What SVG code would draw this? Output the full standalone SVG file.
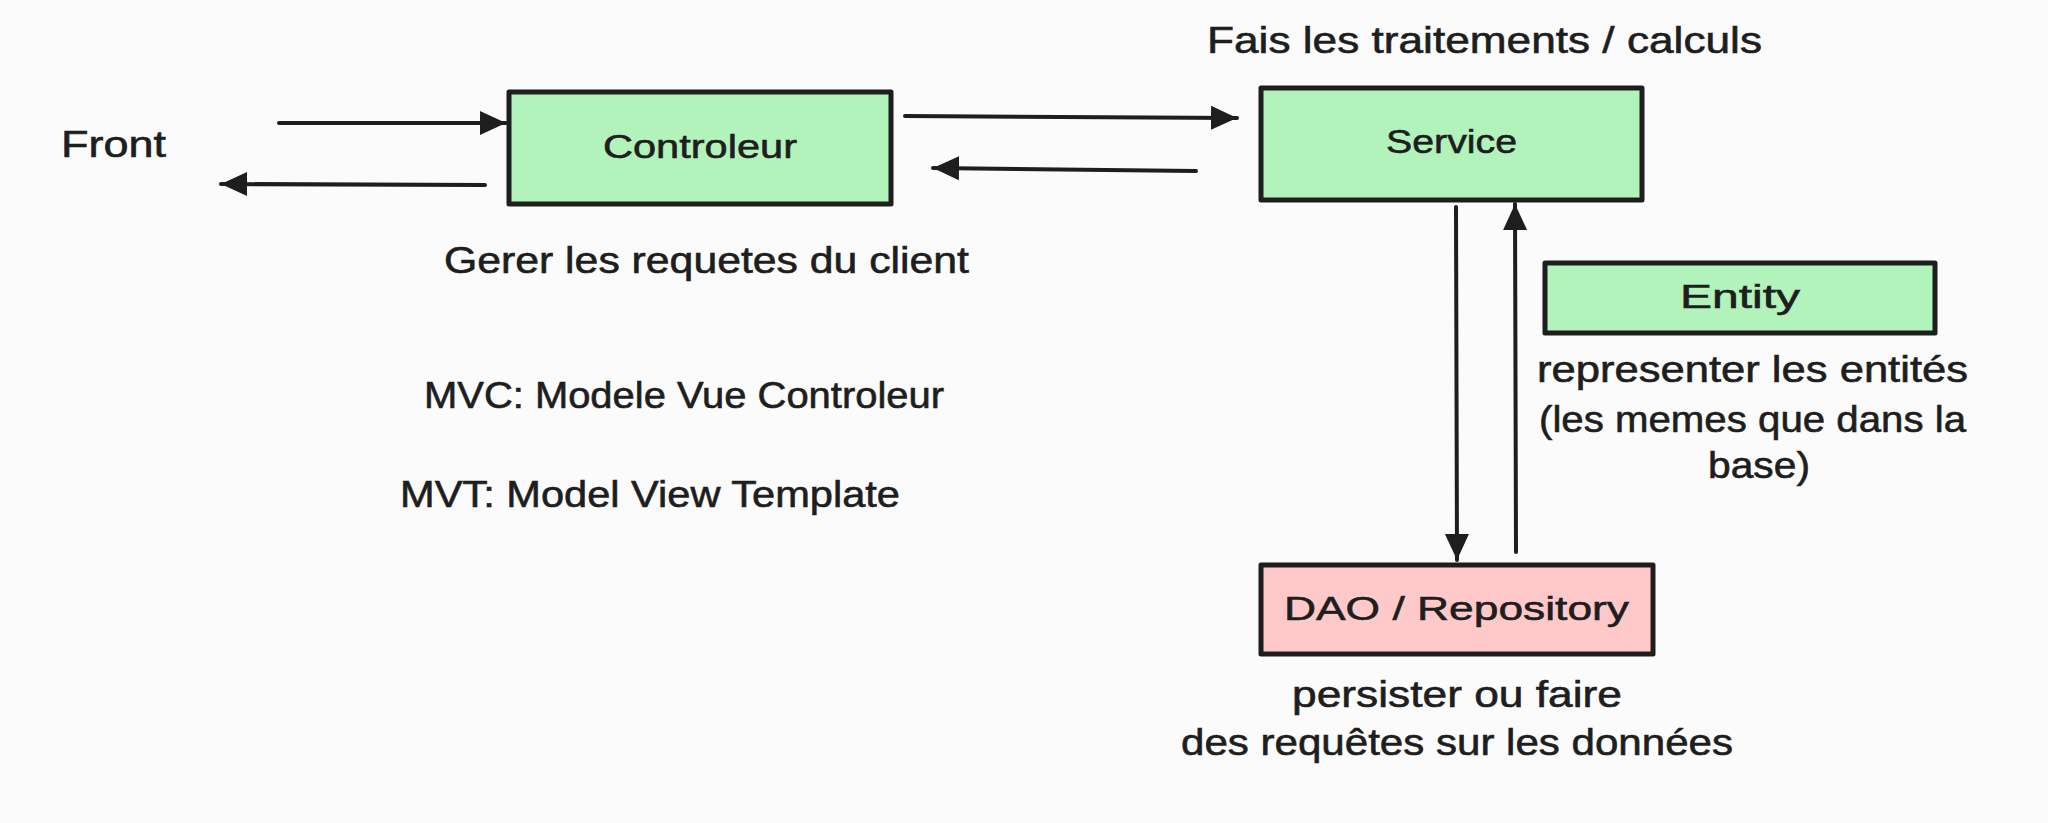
<svg xmlns="http://www.w3.org/2000/svg" width="2048" height="823" viewBox="0 0 2048 823">
<style>
.box{stroke:#1e1e1e;stroke-width:5;stroke-linejoin:round}
.g{fill:#b2f2bb}
.r{fill:#ffc9c9}
.t{font-family:"Liberation Sans",Arial,sans-serif;fill:#1e1e1e;font-size:36px;stroke:#1e1e1e;stroke-width:0.6}
.bl{font-size:34px}
.c{stroke:#1e1e1e;stroke-width:4;fill:none;stroke-linecap:round}
</style>
<defs>
<marker id="ah" markerUnits="userSpaceOnUse" markerWidth="28" markerHeight="26" refX="26" refY="13" orient="auto">
<path d="M0,1 L26,13 L0,25 z" fill="#1e1e1e"/>
</marker>
</defs>
<rect width="2048" height="823" fill="#fbfbfb"/>
<g id="front">
<text class="t" x="61" y="157" textLength="105" lengthAdjust="spacingAndGlyphs">Front</text>
</g>
<g id="controleur">
<rect class="box g" x="509" y="92" width="382" height="112"/>
<text class="t bl" x="603" y="158" textLength="194" lengthAdjust="spacingAndGlyphs">Controleur</text>
</g>
<g id="service">
<rect class="box g" x="1261" y="88" width="381" height="112"/>
<text class="t bl" x="1386" y="153" textLength="131" lengthAdjust="spacingAndGlyphs">Service</text>
</g>
<g id="entity">
<rect class="box g" x="1545" y="263" width="390" height="70"/>
<text class="t bl" x="1680" y="308" textLength="120" lengthAdjust="spacingAndGlyphs">Entity</text>
</g>
<g id="dao">
<rect class="box r" x="1261" y="565" width="392" height="89"/>
<text class="t bl" x="1284" y="620" textLength="345" lengthAdjust="spacingAndGlyphs">DAO / Repository</text>
</g>
<g id="notes">
<text class="t" x="1207" y="53" textLength="555" lengthAdjust="spacingAndGlyphs">Fais les traitements / calculs</text>
<text class="t" x="444" y="273" textLength="525" lengthAdjust="spacingAndGlyphs">Gerer les requetes du client</text>
<text class="t" x="1537" y="382" textLength="431" lengthAdjust="spacingAndGlyphs">representer les entités</text>
<text class="t" x="1539" y="432" textLength="427" lengthAdjust="spacingAndGlyphs">(les memes que dans la</text>
<text class="t" x="1708" y="478" textLength="102" lengthAdjust="spacingAndGlyphs">base)</text>
<text class="t" x="1292" y="707" textLength="330" lengthAdjust="spacingAndGlyphs">persister ou faire</text>
<text class="t" x="1181" y="755" textLength="552" lengthAdjust="spacingAndGlyphs">des requêtes sur les données</text>
<text class="t" x="424" y="408" textLength="520" lengthAdjust="spacingAndGlyphs">MVC: Modele Vue Controleur</text>
<text class="t" x="400" y="507" textLength="500" lengthAdjust="spacingAndGlyphs">MVT: Model View Template</text>
</g>
<g id="connectors">
<line class="c" x1="279" y1="123" x2="506" y2="123" marker-end="url(#ah)"/>
<line class="c" x1="485" y1="185" x2="221" y2="184" marker-end="url(#ah)"/>
<line class="c" x1="905" y1="116" x2="1237" y2="118" marker-end="url(#ah)"/>
<line class="c" x1="1196" y1="171" x2="933" y2="168" marker-end="url(#ah)"/>
<line class="c" x1="1456" y1="207" x2="1457" y2="560" marker-end="url(#ah)"/>
<line class="c" x1="1516" y1="552" x2="1515" y2="204" marker-end="url(#ah)"/>
</g>
</svg>
